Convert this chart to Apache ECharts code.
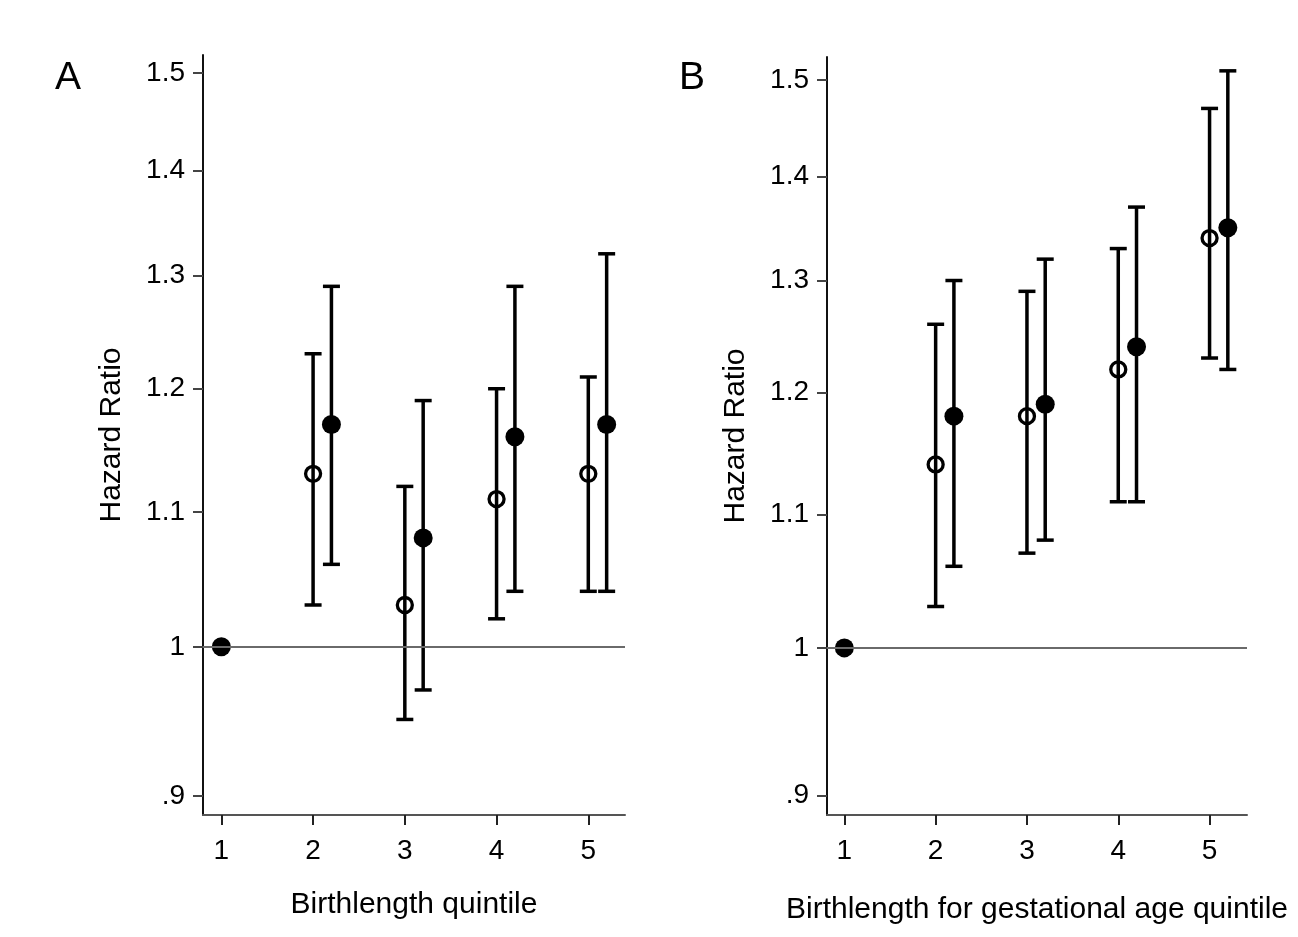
<!DOCTYPE html>
<html>
<head>
<meta charset="utf-8">
<script src="https://cdn.jsdelivr.net/npm/echarts@6/dist/echarts.min.js"></script>
<style>
html,body{margin:0;padding:0;background:#fff;}
#main{width:1298px;height:937px;}
</style>
</head>
<body>
<div id="main"></div>
<script>
// ---- data ----
const quintiles = [1, 2, 3, 4, 5];
const xTickLabels = ['1', '2', '3', '4', '5'];
const yTickValues = [0.9, 1, 1.1, 1.2, 1.3, 1.4, 1.5];
const yTickLabels = ['.9', '1', '1.1', '1.2', '1.3', '1.4', '1.5'];
const filledOffset = 0.2;

// Panel A: Birthlength quintile
const aOpenEst   = [null, 1.13, 1.03, 1.11, 1.13];
const aOpenLo    = [null, 1.03, 0.95, 1.02, 1.04];
const aOpenHi    = [null, 1.23, 1.12, 1.20, 1.21];
const aFilledEst = [1.00, 1.17, 1.08, 1.16, 1.17];
const aFilledLo  = [null, 1.06, 0.97, 1.04, 1.04];
const aFilledHi  = [null, 1.29, 1.19, 1.29, 1.32];

// Panel B: Birthlength for gestational age quintile
const bOpenEst   = [null, 1.14, 1.18, 1.22, 1.34];
const bOpenLo    = [null, 1.03, 1.07, 1.11, 1.23];
const bOpenHi    = [null, 1.26, 1.29, 1.33, 1.47];
const bFilledEst = [1.00, 1.18, 1.19, 1.24, 1.35];
const bFilledLo  = [null, 1.06, 1.08, 1.11, 1.22];
const bFilledHi  = [null, 1.30, 1.32, 1.37, 1.51];

const panelTitles = ['A', 'B'];
const xNames = ['Birthlength quintile', 'Birthlength for gestational age quintile'];
const yName = 'Hazard Ratio';
const refValue = 1;

// ---- helpers ----
const FONT = '"Liberation Sans", Arial, sans-serif';
function xPos(i, isFilled) {
  return quintiles[i] + (isFilled && i > 0 ? filledOffset : 0);
}
function pointData(est, isFilled) {
  const out = [];
  est.forEach((v, i) => { if (v != null) out.push([xPos(i, isFilled), v]); });
  return out;
}
function ciData(lo, hi, isFilled) {
  const out = [];
  lo.forEach((v, i) => { if (v != null) out.push([xPos(i, isFilled), v, hi[i]]); });
  return out;
}
function renderCI(params, api) {
  const x = api.value(0);
  const top = api.coord([x, api.value(2)]);
  const bot = api.coord([x, api.value(1)]);
  const cap = 8.5;
  const style = { stroke: '#000', lineWidth: 3.5 };
  return {
    type: 'group',
    children: [
      { type: 'line', shape: { x1: top[0], y1: top[1], x2: bot[0], y2: bot[1] }, style },
      { type: 'line', shape: { x1: top[0] - cap, y1: top[1], x2: top[0] + cap, y2: top[1] }, style },
      { type: 'line', shape: { x1: bot[0] - cap, y1: bot[1], x2: bot[0] + cap, y2: bot[1] }, style }
    ]
  };
}

const grids = [
  { left: 203, top: 55, width: 422, height: 760 },
  { left: 827, top: 57, width: 420, height: 758 }
];
const yRanges = [[0.888, 1.519], [0.8875, 1.525]];
const xRanges = [[0.8, 5.4], [0.81, 5.41]];
const xNameGaps = [75, 80];

function xAxis(k) {
  return {
    type: 'value', gridIndex: k, min: xRanges[k][0], max: xRanges[k][1],
    name: xNames[k], nameLocation: 'middle', nameGap: xNameGaps[k],
    nameTextStyle: { fontFamily: FONT, fontSize: 30, color: '#000' },
    splitLine: { show: false },
    axisLine: { show: true, lineStyle: { color: '#555', width: 2 } },
    axisTick: { show: true, customValues: quintiles, length: 10, lineStyle: { color: '#222', width: 2 } },
    axisLabel: {
      customValues: quintiles, margin: 22,
      fontFamily: FONT, fontSize: 28, color: '#000',
      formatter: v => xTickLabels[quintiles.indexOf(Math.round(v))]
    }
  };
}
function yAxis(k) {
  return {
    type: 'log', logBase: 10, gridIndex: k, min: yRanges[k][0], max: yRanges[k][1],
    name: yName, nameLocation: 'middle', nameGap: 76, nameRotate: 90,
    nameTextStyle: { fontFamily: FONT, fontSize: 30, color: '#000' },
    splitLine: { show: false },
    axisLine: { show: true, lineStyle: { color: '#111', width: 2 } },
    axisTick: { show: true, customValues: yTickValues, length: 10, lineStyle: { color: '#444', width: 2 } },
    axisLabel: {
      customValues: yTickValues, margin: 18,
      fontFamily: FONT, fontSize: 28, color: '#000',
      formatter: v => {
        let idx = 0, best = Infinity;
        yTickValues.forEach((t, i) => { const d = Math.abs(t - v); if (d < best) { best = d; idx = i; } });
        return yTickLabels[idx];
      }
    }
  };
}

const panels = [
  { oe: aOpenEst, ol: aOpenLo, oh: aOpenHi, fe: aFilledEst, fl: aFilledLo, fh: aFilledHi },
  { oe: bOpenEst, ol: bOpenLo, oh: bOpenHi, fe: bFilledEst, fl: bFilledLo, fh: bFilledHi }
];

const series = [];
panels.forEach((p, k) => {
  series.push({
    type: 'line', xAxisIndex: k, yAxisIndex: k, data: [], silent: true,
    markLine: {
      silent: true, symbol: 'none', label: { show: false },
      lineStyle: { color: '#6a6a6a', width: 2, type: 'solid' },
      data: [{ yAxis: refValue }]
    }
  });
  series.push({ type: 'custom', xAxisIndex: k, yAxisIndex: k, renderItem: renderCI, data: ciData(p.ol, p.oh, false), z: 3 });
  series.push({ type: 'custom', xAxisIndex: k, yAxisIndex: k, renderItem: renderCI, data: ciData(p.fl, p.fh, true), z: 3 });
  series.push({
    type: 'scatter', xAxisIndex: k, yAxisIndex: k, data: pointData(p.oe, false),
    symbol: 'circle', symbolSize: 15, z: 4,
    itemStyle: { color: 'rgba(0,0,0,0)', borderColor: '#000', borderWidth: 3.3, opacity: 1 }
  });
  series.push({
    type: 'scatter', xAxisIndex: k, yAxisIndex: k, data: pointData(p.fe, true),
    symbol: 'circle', symbolSize: 19, z: 4,
    itemStyle: { color: '#000', opacity: 1 }
  });
});

const chart = echarts.init(document.getElementById('main'), null, { renderer: 'canvas' });
chart.setOption({
  animation: false,
  backgroundColor: '#fff',
  grid: grids,
  xAxis: [xAxis(0), xAxis(1)],
  yAxis: [yAxis(0), yAxis(1)],
  graphic: [
    { type: 'text', left: 55, top: 59, style: { text: panelTitles[0], font: '39px ' + FONT, fill: '#000' } },
    { type: 'text', left: 679, top: 59, style: { text: panelTitles[1], font: '39px ' + FONT, fill: '#000' } }
  ],
  series
});
</script>
</body>
</html>
